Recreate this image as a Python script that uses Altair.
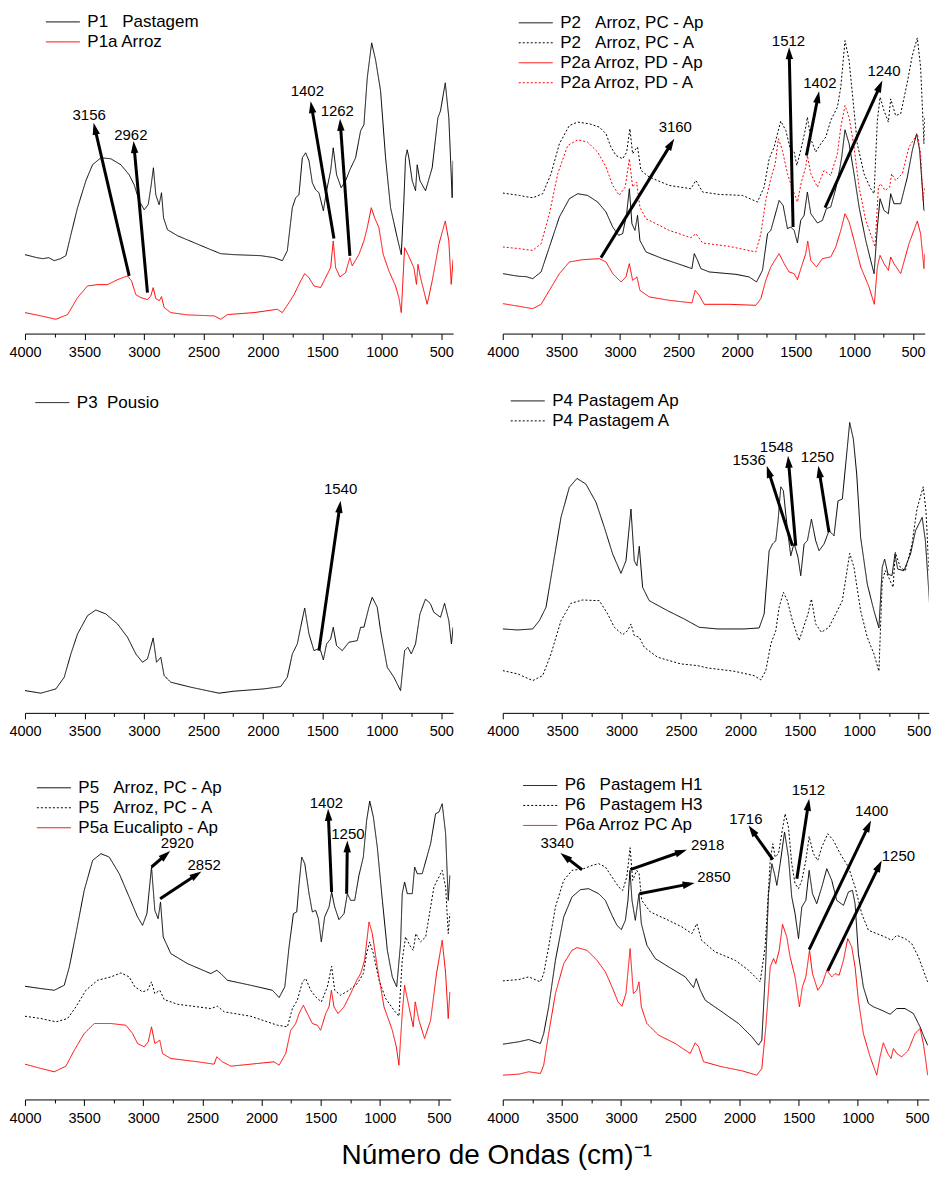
import math
import altair as alt
import pandas as pd

FONT = "Liberation Sans"
BLACK = "#000000"
RED = "#ff0000"
SOLID = [1, 0]
DOT = [2, 2]

# ---------------- spectra: (wavenumber cm-1, absorbance a.u.) ----------------
P1_PASTAGEM = [(4000,79),(3900,76),(3852,75),(3800,76),(3754,73),(3700,75),(3656,78),(3614,99),(3558,126),(3488,153),(3432,169),(3362,176),(3278,175),(3194,169),(3124,159),(3082,149),(3040,133),(2998,124),(2964,129),(2942,146),(2920,166),(2900,139),(2872,129),(2852,141),(2835,116),(2802,104),(2718,98),(2578,91),(2438,84),(2354,80),(2242,79),(2018,78),(1906,76),(1836,73),(1794,83),(1752,126),(1724,136),(1696,139),(1668,176),(1640,181),(1612,173),(1584,151),(1556,144),(1528,141),(1491,123),(1464,143),(1430,163),(1408,186),(1380,159),(1341,146),(1304,153),(1268,164),(1220,176),(1178,203),(1150,209),(1122,256),(1085,291),(1052,274),(1010,243),(968,176),(926,126),(870,96),(836,79),(814,133),(800,176),(786,184),(772,176),(744,153),(716,143),(702,169),(679,153),(632,143),(576,166),(528,216),(506,223),(466,251),(436,216),(408,136),(400,173)]
P1A_ARROZ = [(4000,21),(3866,17.7),(3740,14.3),(3642,19),(3558,36),(3474,47.7),(3390,49),(3306,49),(3222,54),(3138,57.7),(3104,52.7),(3068,39),(3026,36),(2970,34),(2942,37.7),(2922,46),(2900,35),(2870,33),(2852,37),(2830,26),(2774,21),(2634,18.7),(2410,17.7),(2354,14.3),(2298,19),(2074,21),(1878,24.3),(1836,21),(1780,31),(1738,39),(1682,52.7),(1648,60),(1612,56),(1570,47.7),(1514,46),(1472,56),(1430,66),(1408,92.7),(1388,66),(1352,56.7),(1304,61),(1268,76),(1248,67.7),(1192,79.3),(1150,92.7),(1122,106),(1088,126),(1060,116),(1024,106),(988,79.3),(940,62.7),(884,47.7),(856,36),(836,21),(808,86),(780,79.3),(730,66),(708,49.3),(696,69.3),(674,56),(618,29.3),(576,52.7),(520,89.3),(466,112.7),(436,92.7),(416,49.3),(400,74.3)]

P2_PC_AP = [(4000,60),(3900,58),(3858,57.3),(3800,57),(3744,55),(3673,61.7),(3602,86.7),(3517,116.7),(3432,135),(3361,140),(3276,138.3),(3190,131.7),(3119,121.7),(3062,106.7),(3011,98.3),(2977,100),(2943,120),(2920,145),(2898,110),(2872,103.3),(2850,118.3),(2830,93.3),(2778,81.7),(2636,75),(2466,68.3),(2386,65),(2366,80),(2338,73.3),(2310,65),(2239,61.7),(2011,59.3),(1898,56.7),(1835,51.7),(1784,63.3),(1741,100),(1713,103.3),(1685,115),(1642,133.3),(1608,128.3),(1571,105),(1543,106.7),(1514,103.3),(1486,90.7),(1458,113.3),(1429,118.3),(1401,141.7),(1372,120),(1315,110.7),(1273,113.3),(1239,125),(1202,126.7),(1159,145),(1125,165),(1108,176.7),(1080,204),(1045,190),(1003,160),(960,126.7),(903,93.3),(861,73.3),(832,60),(804,106.7),(781,135),(747,123.3),(710,120),(690,140),(662,130),(605,130),(548,156.7),(506,183.3),(469,200),(443,183.3),(406,123.3),(402,123)]
P2_PC_A = [(4000,140.7),(3900,139),(3858,138.3),(3800,137),(3744,136),(3659,140),(3588,160),(3517,190),(3432,208.3),(3361,211.7),(3261,210),(3176,206.7),(3119,200),(3077,186.7),(3034,178.3),(2977,175),(2943,181.7),(2915,205),(2892,180),(2864,185),(2850,186.7),(2821,163.3),(2750,156.7),(2580,148.3),(2395,145),(2352,153.3),(2295,141.7),(2153,139.3),(1954,138.3),(1827,131.7),(1770,146.7),(1727,175),(1685,186.7),(1628,212.7),(1585,203.3),(1551,186.7),(1514,181.7),(1491,168.3),(1458,183.3),(1420,203.3),(1401,216.7),(1372,195),(1330,181.7),(1287,190),(1244,196.7),(1202,213.3),(1145,226.7),(1116,246.7),(1080,293.3),(1045,273.3),(1017,240),(975,190),(918,160),(861,145),(832,140),(804,213.3),(781,236.7),(747,223.3),(710,211.7),(690,235),(648,218.3),(605,220),(548,251.7),(506,278.3),(463,296),(435,266.7),(406,190),(400,216.7)]
P2A_PD_AP = [(4000,30),(3900,28),(3858,27.3),(3800,26),(3744,25),(3673,29.3),(3602,43.3),(3517,60),(3432,71.7),(3318,74),(3176,75),(3119,71.7),(3062,60),(2991,51.7),(2949,56.7),(2920,70),(2892,53.3),(2855,56.7),(2830,43.3),(2750,36.7),(2580,33.3),(2386,30.7),(2358,43.3),(2324,38.3),(2281,29.3),(2068,29.3),(1841,28.3),(1798,35),(1756,53.3),(1713,66.7),(1670,75),(1642,80),(1599,70),(1557,61.7),(1514,60),(1486,54),(1443,70),(1415,80),(1398,92.7),(1372,73.3),(1324,66.7),(1273,75),(1202,76.7),(1159,86.7),(1116,103.3),(1080,120),(1045,111.7),(1003,93.3),(946,66.7),(875,46.7),(830,29.3),(804,66.7),(781,78.3),(747,70),(710,63.3),(690,76.7),(662,70),(605,60),(534,90),(463,112.7),(435,100),(406,65),(400,80)]
P2A_PD_A = [(4000,86.7),(3900,85.5),(3858,85),(3800,84),(3744,83.3),(3673,90),(3602,120),(3531,160),(3446,188.3),(3361,194),(3276,191.7),(3190,181.7),(3119,166.7),(3062,148.3),(3006,138.3),(2955,146.7),(2920,175),(2892,146.7),(2858,151.7),(2830,126.7),(2778,115),(2580,103.3),(2395,96),(2352,100),(2295,90.7),(2068,87.3),(1841,81.7),(1798,100),(1756,133.3),(1713,155),(1676,170),(1648,195),(1614,183.3),(1571,160),(1534,146.7),(1486,131.7),(1449,153.3),(1415,166.7),(1401,178.3),(1372,160),(1315,146.7),(1259,163.3),(1202,158.3),(1145,180),(1116,206.7),(1080,228.3),(1045,216.7),(1003,186.7),(960,146.7),(903,113.3),(847,95),(824,86.7),(795,146.7),(776,150),(739,143.3),(699,146.7),(682,160),(648,153.3),(591,160),(534,186.7),(463,200),(435,180),(415,133.3),(400,146.7)]

P3_POUSIO = [(4000,22.3),(3866,19.7),(3740,24),(3670,35.7),(3614,59),(3558,79),(3474,97.3),(3404,103),(3320,99),(3222,89),(3138,75.7),(3068,59),(3012,50.7),(2970,54),(2922,75),(2894,50.7),(2858,55.7),(2830,37.3),(2774,30.7),(2606,25.7),(2368,19.7),(2242,21.7),(1990,24),(1850,26.3),(1794,35.7),(1752,59),(1710,69),(1682,85.7),(1648,105),(1612,79),(1570,62.3),(1536,64),(1514,62.3),(1491,53),(1464,69),(1430,74),(1408,85.7),(1380,67.3),(1332,62.3),(1276,70.7),(1206,72.3),(1178,85.7),(1150,85.7),(1108,105.7),(1080,115.7),(1038,105.7),(1010,82.3),(954,45.7),(898,35.7),(842,22.3),(808,62.3),(780,65.7),(752,59),(716,69),(679,99),(632,114),(590,109),(562,100.7),(506,95.7),(472,109.7),(436,92.3),(414,69),(400,85.7)]

P4_AP = [(4000,84),(3874,83),(3748,84),(3692,92.3),(3636,105.7),(3580,145.7),(3510,195.7),(3440,225.7),(3375,234.7),(3300,229),(3215,210.7),(3145,185.7),(3075,159),(3005,139.7),(2963,152.3),(2921,204),(2893,152.3),(2871,147.3),(2851,166.7),(2823,125.7),(2767,112.3),(2613,102.3),(2473,94),(2347,85.7),(2193,84),(1969,84),(1842,85),(1800,99),(1758,162.3),(1730,169),(1702,172.3),(1683,192.3),(1660,226.3),(1638,222.3),(1618,199),(1599,179),(1576,157.3),(1548,169.7),(1515,155.7),(1492,137.3),(1464,169),(1436,172.3),(1402,194),(1366,172.3),(1338,162.3),(1296,169),(1254,182.3),(1212,177.3),(1178,212.3),(1142,214),(1100,265.7),(1080,290.7),(1049,274),(1021,239),(988,175.7),(932,129),(876,102.3),(834,85),(806,145.7),(786,154),(758,139),(724,137.3),(699,159),(676,144),(624,142.3),(568,159),(526,182.3),(470,195.7),(443,172.3),(420,132.3),(408,109),(400,135.7)]
P4_A = [(4000,42.3),(3874,39),(3748,32.3),(3664,37.3),(3594,59),(3510,92.3),(3426,109.7),(3328,113),(3187,112.3),(3117,99),(3061,85.7),(2991,78.3),(2949,82.3),(2921,89),(2893,77.3),(2851,75.7),(2809,65.7),(2697,55.7),(2501,49),(2361,47.3),(2277,45),(2053,41.7),(1885,37.3),(1828,33),(1786,42.3),(1744,69),(1702,82.3),(1674,105.7),(1638,120.7),(1604,112.3),(1562,92.3),(1506,72.3),(1464,87.3),(1431,99),(1402,114),(1366,89),(1318,80.7),(1254,85.7),(1198,99),(1142,112.3),(1080,159.7),(1044,145.7),(988,102.3),(932,75.7),(876,59),(834,41.7),(806,132.3),(780,142.3),(752,135.7),(715,125.7),(696,160.7),(654,145.7),(612,142.3),(556,169),(514,204),(461,226.3),(438,202.3),(415,145.7),(400,132.3)]

P5_PC_AP = [(4000,113.3),(3865,111),(3752,109.3),(3668,114.3),(3625,132.7),(3569,166),(3499,209.3),(3428,239.3),(3358,246),(3288,242.7),(3203,226),(3119,202.7),(3048,182.7),(3006,174.3),(2969,186),(2930,232.7),(2902,189.3),(2874,181),(2854,197.7),(2831,162.7),(2767,146),(2626,136),(2429,126),(2378,129.3),(2344,126),(2288,119.3),(2091,114.3),(1908,109.3),(1851,102),(1803,112.7),(1767,152.7),(1730,186),(1702,187.7),(1682,216),(1660,242.7),(1634,236),(1598,206),(1570,187.7),(1542,189.3),(1519,181),(1494,157.7),(1466,182.7),(1429,192.7),(1407,207.7),(1381,192.7),(1345,180),(1302,186),(1274,206),(1246,199.3),(1212,199.3),(1176,224.3),(1139,242.7),(1111,279.3),(1085,298.7),(1054,282.7),(1021,252.7),(978,199.3),(936,149.3),(894,122.7),(857,112.7),(824,156),(810,206),(790,217.7),(767,206),(725,206),(705,232.7),(683,226),(641,226),(570,256),(528,286),(500,287.7),(472,296),(443,266),(421,199.3),(407,224.3)]
P5_PC_A = [(4000,83.3),(3865,81),(3738,77.7),(3640,81),(3569,92.7),(3485,109.3),(3386,119.3),(3273,122.7),(3189,126.7),(3119,122.7),(3071,112.7),(3006,107.7),(2964,109.3),(2930,117.7),(2902,106),(2860,109.3),(2823,100),(2710,95.3),(2429,91),(2372,93.3),(2316,87.7),(2091,83.3),(1865,74.3),(1781,72.7),(1739,91),(1697,99.3),(1654,117.7),(1626,121),(1584,109.3),(1542,102.7),(1494,97.7),(1443,112.7),(1407,133.3),(1381,109.3),(1331,104.3),(1260,109.3),(1190,116),(1139,126),(1111,146),(1085,157.7),(1054,146),(1006,119.3),(950,101),(880,89.3),(838,83.3),(810,139.3),(782,162.7),(739,152.7),(717,149.3),(695,166),(655,157.7),(612,162.7),(542,212.7),(472,229.3),(443,212.7),(421,166),(407,186)]
P5A_EUC_AP = [(4000,35.3),(3865,31),(3752,27.7),(3654,33.3),(3583,49.3),(3499,66),(3414,76),(3273,76),(3147,74.3),(3090,66),(3048,56),(2992,52.7),(2958,57.7),(2930,72.7),(2902,56),(2860,59.3),(2837,46),(2767,41),(2541,37.7),(2401,35.3),(2378,42.7),(2330,37.7),(2260,33.3),(2034,36),(1894,37.7),(1851,34.3),(1795,46),(1753,69.3),(1711,76),(1682,86),(1646,94.3),(1612,86),(1570,76),(1528,74.3),(1500,69.3),(1457,86),(1429,92.7),(1409,109.3),(1387,92.7),(1353,86),(1302,92.7),(1246,106),(1195,119.3),(1162,126),(1128,139.3),(1091,177.7),(1063,166),(1021,132.7),(964,92.7),(894,69.3),(860,52.7),(838,34.3),(810,86),(790,114.3),(753,92.7),(717,72.7),(700,97.7),(669,79.3),(621,61),(570,79.3),(520,126),(472,159.3),(443,126),(421,81),(407,107.7)]

P6_H1 = [(4000,55.3),(3865,57.7),(3781,60),(3682,56),(3654,66),(3612,92.7),(3555,139.3),(3485,182.7),(3415,202.7),(3344,210),(3274,211),(3190,206),(3133,199.3),(3077,184.3),(3035,174.3),(2998,170),(2964,179.3),(2942,199.3),(2925,229.3),(2908,199.3),(2880,179.3),(2849,206),(2829,176),(2782,154.3),(2711,141),(2599,132.7),(2458,122.7),(2388,112),(2365,121),(2331,109.3),(2289,99.3),(2148,87.7),(2008,76),(1895,62.7),(1839,54.3),(1811,59.3),(1783,122.7),(1754,206),(1726,236),(1704,226),(1684,214.3),(1656,236),(1619,267.7),(1586,242.7),(1558,202.7),(1530,186),(1501,161),(1473,192.7),(1439,199.3),(1411,229.3),(1383,206),(1347,196),(1304,212.7),(1262,231),(1220,219.3),(1178,199.3),(1121,194.3),(1079,207.7),(1045,209.3),(1023,196),(995,146),(953,112.7),(910,96),(868,92.7),(798,89.3),(727,85.3),(671,91),(601,91),(530,86),(474,72.7),(446,64.3),(410,54.3)]
P6_H3 = [(4000,118.7),(3865,120),(3781,122.7),(3682,117.7),(3654,126),(3612,152.7),(3555,192.7),(3485,219.3),(3415,229.3),(3316,231),(3246,234.3),(3190,236),(3133,232.7),(3077,222.7),(3021,212.7),(2986,209.3),(2952,222.7),(2924,252),(2902,219.3),(2868,229.3),(2848,226),(2826,199.3),(2753,187.7),(2599,179.3),(2486,172.7),(2402,166),(2360,176),(2320,159.3),(2205,147.7),(2036,139.3),(1923,129.3),(1825,117.7),(1783,152.7),(1740,239.3),(1718,256),(1698,242.7),(1670,246),(1636,271),(1614,286),(1586,272.7),(1558,236),(1530,216),(1501,211),(1473,219.3),(1439,239.3),(1411,263.3),(1375,246),(1338,239.3),(1304,252.7),(1254,266),(1206,259.3),(1149,246),(1079,232.7),(1023,212.7),(967,186),(910,169.3),(854,166.7),(770,162.7),(713,159.3),(671,164.3),(601,161),(544,156),(488,142.7),(446,129.3),(410,117.7)]
P6A_ARROZ = [(4000,24.3),(3865,25.3),(3781,27.7),(3682,26),(3654,34.3),(3612,66),(3555,106),(3485,136),(3415,149.3),(3373,152),(3288,149.3),(3204,139.3),(3133,127.7),(3077,112.7),(3026,97.7),(2993,93.3),(2959,106),(2924,151),(2896,106),(2868,109.3),(2849,117.7),(2829,92.7),(2782,76),(2683,64.3),(2542,56),(2416,46),(2374,56.7),(2345,52.7),(2303,37.7),(2148,32.7),(1980,28.7),(1853,24.3),(1811,31),(1777,72.7),(1740,132.7),(1712,141),(1693,136),(1664,149.3),(1636,175.3),(1600,162.7),(1572,142.7),(1530,122.7),(1493,92.7),(1468,112.7),(1439,122.7),(1408,149.3),(1383,126),(1338,109.3),(1299,116),(1262,129.3),(1220,122.7),(1192,126),(1158,124.3),(1121,139.3),(1085,161),(1051,152.7),(1023,132.7),(995,99.3),(953,66),(896,42.7),(840,24.3),(812,42.7),(784,56.7),(747,46),(719,41),(699,51),(671,46),(629,42.7),(573,49.3),(516,66),(474,71),(446,56),(426,39.3),(410,24.3)]

# ---------------- band annotations: label, arrow tail, arrow tip, label spot ----------------
P1_BAND = ["3156", "2962", "1402", "1262"]
P1_FROM = [(3124,57.7),(2970,41),(1402,95.3),(1268,77.7)]
P1_TO = [(3423,211),(3087,192.7),(1598,232.7),(1351,215)]
P1_TEXT = [(3460,218.7),(3110,199),(1626,242.7),(1374,222.7)]

P2_BAND = ["3160", "1512", "1402", "1240"]
P2_FROM = [(3162,76),(1523,106.7),(1409,178.3),(1250,126)]
P2_TO = [(2537,195),(1557,286.7),(1301,242.7),(761,253.3)]
P2_TEXT = [(2528,206.7),(1562,292.7),(1295,250.7),(747,263.3)]

P3_BAND = ["1540"]
P3_FROM = [(1528,62.3)]
P3_TO = [(1346,212.3)]
P3_TEXT = [(1346,224)]

P4_BAND = ["1536", "1548", "1250"]
P4_FROM = [(1562,167.3),(1534,167.3),(1254,180.7)]
P4_TO = [(1778,247.3),(1599,257.3),(1344,247.3)]
P4_TEXT = [(1926,252.7),(1696,266.3),(1352,256.3)]

P5_BAND = ["2920", "2852", "1402", "1250"]
P5_FROM = [(2930,232.7),(2857,201),(1407,207.7),(1280,206)]
P5_TO = [(2772,248.7),(2508,228.3),(1437,291),(1274,259.3)]
P5_TEXT = [(2712,256.3),(2485,234.3),(1451,296.7),(1269,265.3)]

P6_BAND = ["3340", "2918", "2850", "1716", "1512", "1400", "1250"]
P6_FROM = [(3330,230),(2922,230),(2846,206),(1718,240),(1515,221),(1411,150),(1254,128.7)]
P6_TO = [(3513,246.7),(2444,250),(2379,216.7),(1923,274.3),(1411,301),(888,279.3),(798,239.3)]
P6_TEXT = [(3541,256.7),(2269,254.3),(2216,222.7),(1946,281),(1417,309.3),(882,288.7),(657,243.3)]

NB = "\u00a0"
MAJOR = [4000, 3500, 3000, 2500, 2000, 1500, 1000, 500]
MINOR = [3750, 3250, 2750, 2250, 1750, 1250, 750]
X_TITLE = "Número de Ondas (cm)\u207b\u00b9"

# ---------------- layout (page pixels) ----------------
ROW_AXIS_Y = [333.3, 712.3, 1099.3]
ROW_TOP = [8, 387.3, 766.3]
LEFT_X = 24.1
RIGHT_X = 502
LEFT_W = 428.6
HEAD_R = 6.0


def arrow_table(labels, tails, heads, texts, kx):
    rows = []
    for lab, (wt, at), (wh, ah), (wl, al) in zip(labels, tails, heads, texts):
        dx = (wt - wh) * kx
        dy = -(ah - at)
        L = math.hypot(dx, dy)
        ux, uy = dx / L, dy / L
        rows.append({
            "label": lab, "xt": wt, "yt": at,
            "xc": wh + ux * HEAD_R / kx, "yc": ah + uy * HEAD_R,
            "ang": math.degrees(math.atan2(ux, -uy)) % 360,
            "lx": wl, "ly": al,
        })
    return pd.DataFrame(rows)


def panel(curves, labels, tails, heads, texts, width, row, plot_left, line_x, first_y, wn_min=400):
    top = ROW_TOP[row]
    height = ROW_AXIS_Y[row] - top
    kx = width / (4000.0 - wn_min)
    rows = []
    for name, pairs, _, _ in curves:
        for w, a in pairs:
            rows.append({"series": name, "wn": w, "a": a})
    df = pd.DataFrame(rows)
    names = [c[0] for c in curves]
    colors = [c[2] for c in curves]
    dashes = [c[3] for c in curves]

    xs = alt.Scale(domain=[wn_min, 4000], reverse=True, nice=False, zero=False)
    ys = alt.Scale(domain=[0, height], nice=False, zero=False)
    major = alt.Axis(values=MAJOR, format="d", title=None, grid=False, labelFlush=False,
                     labelOverlap=False, tickSize=6, tickColor=BLACK, domainColor=BLACK,
                     labelColor=BLACK, labelFont=FONT, labelFontSize=14.5, labelPadding=6,
                     orient="bottom")
    minor = alt.Axis(values=MINOR, title=None, grid=False, labels=False, domain=False,
                     tickSize=3.5, tickColor=BLACK, orient="bottom")
    leg = alt.Legend(orient="none", legendX=line_x - plot_left + 10.5, legendY=first_y - top - 8.5,
                     title=None, symbolType="M-3,0L3,0", symbolSize=128.4, symbolStrokeWidth=1,
                     labelFont=FONT, labelFontSize=17, labelColor=BLACK, labelOffset=16,
                     rowPadding=2, labelLimit=400, padding=0)

    lines = alt.Chart(df).mark_line(strokeWidth=1, clip=True).encode(
        x=alt.X("wn:Q", scale=xs, axis=major),
        y=alt.Y("a:Q", scale=ys, axis=None),
        color=alt.Color("series:N", scale=alt.Scale(domain=names, range=colors), legend=leg),
        strokeDash=alt.StrokeDash("series:N", scale=alt.Scale(domain=names, range=dashes), legend=leg),
    )
    adf = arrow_table(labels, tails, heads, texts, kx)
    shafts = alt.Chart(adf).mark_rule(strokeWidth=3, color=BLACK).encode(
        x=alt.X("xt:Q", scale=xs, axis=None), y=alt.Y("yt:Q", scale=ys, axis=None),
        x2="xc:Q", y2="yc:Q")
    tips = alt.Chart(adf).mark_point(shape="M0,-1L-0.62,1L0.62,1Z", filled=True, size=144,
                                     color=BLACK, opacity=1, strokeWidth=0).encode(
        x=alt.X("xc:Q", scale=xs, axis=None), y=alt.Y("yc:Q", scale=ys, axis=None),
        angle=alt.Angle("ang:Q", scale=None))
    txt = alt.Chart(adf).mark_text(font=FONT, fontSize=15, color=BLACK, align="center",
                                   baseline="middle").encode(
        x=alt.X("lx:Q", scale=xs, axis=minor), y=alt.Y("ly:Q", scale=ys, axis=None),
        text="label:N")
    return alt.layer(lines, shafts, tips, txt).resolve_axis(x="independent").properties(
        width=width, height=height)


p1 = panel([("P1" + NB * 3 + "Pastagem", P1_PASTAGEM, BLACK, SOLID),
            ("P1a Arroz", P1A_ARROZ, RED, SOLID)],
           P1_BAND, P1_FROM, P1_TO, P1_TEXT, LEFT_W, 0, LEFT_X, 43, 21.3)
p2 = panel([("P2" + NB * 3 + "Arroz, PC - Ap", P2_PC_AP, BLACK, SOLID),
            ("P2" + NB * 3 + "Arroz, PC - A", P2_PC_A, BLACK, DOT),
            ("P2a Arroz, PD - Ap", P2A_PD_AP, RED, SOLID),
            ("P2a Arroz, PD - A", P2A_PD_A, RED, DOT)],
           P2_BAND, P2_FROM, P2_TO, P2_TEXT, 422.4, 0, RIGHT_X, 516, 22.2)
p3 = panel([("P3" + NB * 2 + "Pousio", P3_POUSIO, BLACK, SOLID)],
           P3_BAND, P3_FROM, P3_TO, P3_TEXT, LEFT_W, 1, LEFT_X, 32.5, 401.7)
p4 = panel([("P4 Pastagem Ap", P4_AP, BLACK, SOLID),
            ("P4 Pastagem A", P4_A, BLACK, DOT)],
           P4_BAND, P4_FROM, P4_TO, P4_TEXT, 426.4, 1, RIGHT_X, 508, 400, wn_min=415)
p5 = panel([("P5" + NB * 3 + "Arroz, PC - Ap", P5_PC_AP, BLACK, SOLID),
            ("P5" + NB * 3 + "Arroz, PC - A", P5_PC_A, BLACK, DOT),
            ("P5a Eucalipto - Ap", P5A_EUC_AP, RED, SOLID)],
           P5_BAND, P5_FROM, P5_TO, P5_TEXT, 426.2, 2, LEFT_X, 34, 787.3)
p6 = panel([("P6" + NB * 3 + "Pastagem H1", P6_H1, BLACK, SOLID),
            ("P6" + NB * 3 + "Pastagem H3", P6_H3, BLACK, DOT),
            ("P6a Arroz PC Ap", P6A_ARROZ, RED, SOLID)],
           P6_BAND, P6_FROM, P6_TO, P6_TEXT, 426.5, 2, RIGHT_X, 520.5, 785)

RES = dict(x="independent", y="independent", color="independent", strokeDash="independent")

chart = alt.concat(
    p1, p2, p3, p4, p5, p6, columns=2, bounds="flush", align="each",
    spacing={"row": ROW_TOP[1] - ROW_AXIS_Y[0], "column": RIGHT_X - LEFT_X - LEFT_W},
).resolve_scale(**RES).resolve_legend(color="independent", strokeDash="independent").properties(
    padding={"left": 0, "top": 0, "right": 0, "bottom": 0},
    title=alt.TitleParams(text=X_TITLE, orient="bottom", anchor="middle", font=FONT, fontSize=28,
                          fontWeight="normal", color=BLACK, offset=17, dx=27),
).configure(background="white").configure_view(strokeWidth=0)

chart.save("out.html", embed_options={"renderer": "svg", "actions": False})
